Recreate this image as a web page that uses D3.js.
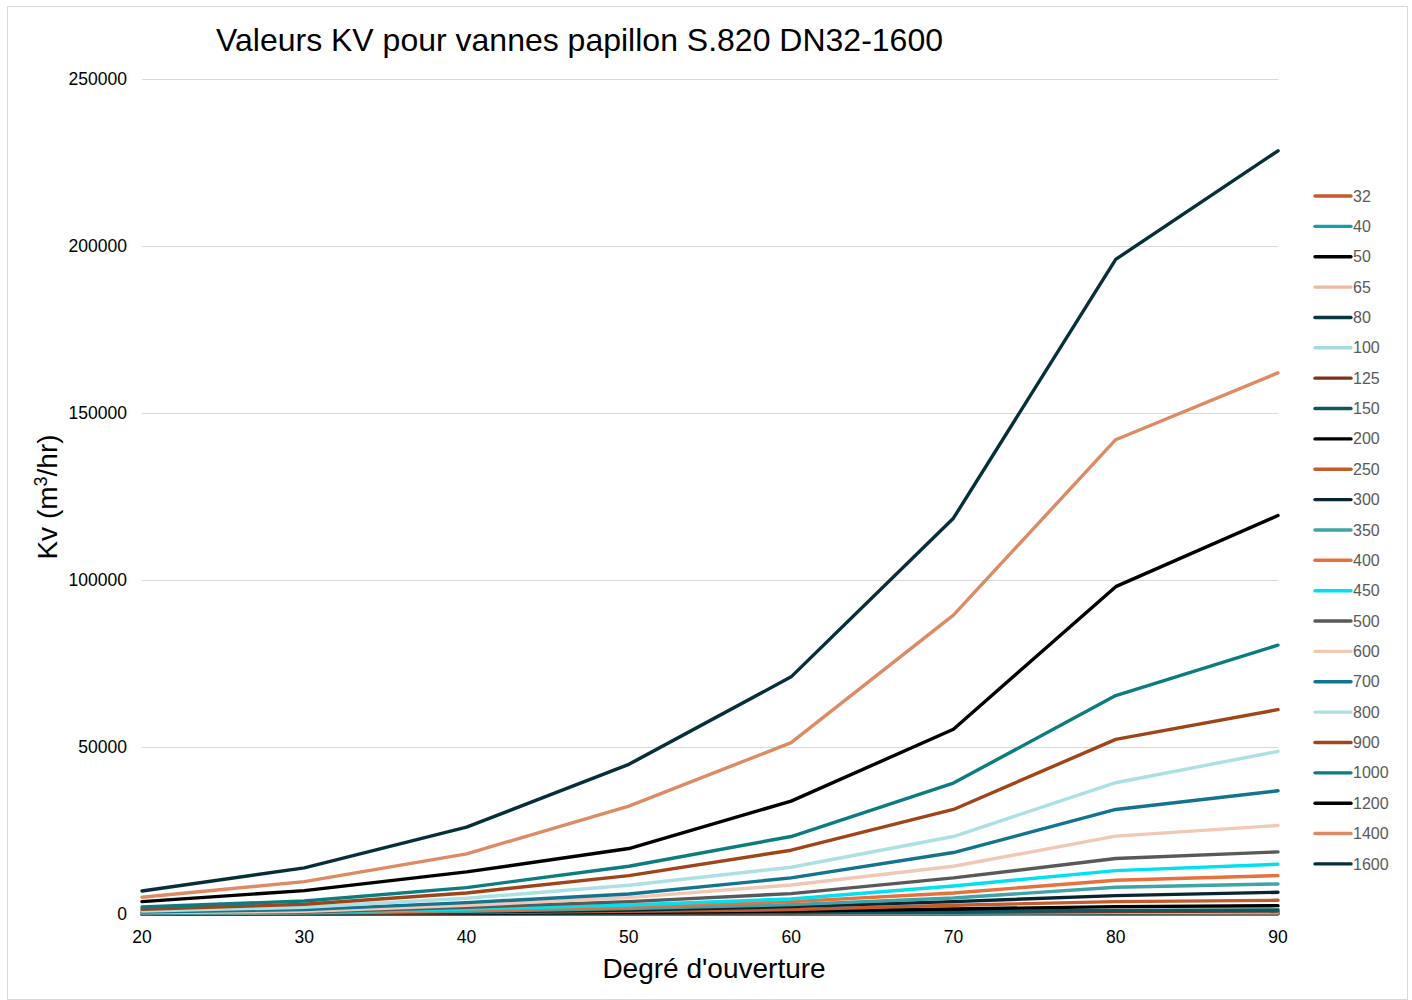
<!DOCTYPE html>
<html>
<head>
<meta charset="utf-8">
<script src="https://cdn.jsdelivr.net/npm/d3@7"></script>
<style>
  html, body { margin: 0; padding: 0; background: #fff; }
  svg { display: block; font-family: "Liberation Sans", Arial, sans-serif; }
</style>
</head>
<body>
<svg id="chart" width="1412" height="1000"></svg>
<script>
// Opening angle (degrees) on the x axis
const angles = [20, 30, 40, 50, 60, 70, 80, 90];

// Valve sizes (DN) – one series per size
const sizes = ["32", "40", "50", "65", "80", "100", "125", "150", "200", "250", "300",
               "350", "400", "450", "500", "600", "700", "800", "900", "1000", "1200", "1400", "1600"];

// Kv values in m3/hr for each size at the angles above
const kv32   = [1, 3, 6, 11, 20, 35, 50, 58];
const kv40   = [2, 4, 10, 18, 32, 55, 80, 90];
const kv50   = [3, 6, 15, 28, 50, 85, 125, 140];
const kv65   = [4, 10, 26, 46, 85, 145, 210, 240];
const kv80   = [6, 15, 40, 70, 130, 220, 320, 360];
const kv100  = [10, 25, 60, 110, 200, 340, 500, 560];
const kv125  = [15, 35, 90, 170, 320, 520, 760, 850];
const kv150  = [20, 50, 120, 250, 450, 750, 1100, 1250];
const kv200  = [40, 100, 250, 500, 900, 1500, 2200, 2500];
const kv250  = [60, 150, 400, 800, 1300, 2600, 3700, 4100];
const kv300  = [90, 220, 600, 1200, 2200, 3700, 5500, 6500];
const kv350  = [120, 300, 800, 1600, 2800, 4800, 8000, 9000];
const kv400  = [160, 400, 1100, 2100, 3700, 6300, 10100, 11500];
const kv450  = [200, 500, 1500, 2700, 4500, 8400, 13000, 14900];
const kv500  = [300, 600, 2000, 3700, 6100, 10800, 16600, 18600];
const kv600  = [400, 800, 2600, 4900, 8700, 14300, 23300, 26500];
const kv700  = [600, 1300, 3400, 6000, 10800, 18400, 31300, 36900];
const kv800  = [900, 2000, 4700, 8600, 14000, 23200, 39300, 48700];
const kv900  = [1400, 2900, 6300, 11500, 19100, 31300, 52300, 61200];
const kv1000 = [2100, 3900, 7900, 14300, 23200, 39200, 65400, 80500];
const kv1200 = [3700, 7000, 12600, 19600, 33800, 55300, 98000, 119300];
const kv1400 = [5000, 9700, 18000, 32300, 51300, 89500, 142000, 162000];
const kv1600 = [6900, 13800, 26000, 44800, 71000, 118500, 196000, 228500];

const seriesValues = [kv32, kv40, kv50, kv65, kv80, kv100, kv125, kv150, kv200, kv250, kv300,
                      kv350, kv400, kv450, kv500, kv600, kv700, kv800, kv900, kv1000, kv1200, kv1400, kv1600];

const colors = ["#C55A2B", "#159FA8", "#000000", "#EEB9A1", "#0B3644", "#A6DCE0", "#7B3418",
                "#0B5A5F", "#000000", "#C55A2B", "#0A2530", "#3FA3A8", "#E8703A", "#00E0F0",
                "#595959", "#F0C8B5", "#14738F", "#ADE0E3", "#A0441A", "#0B7C80", "#000000",
                "#DD8B65", "#062F3A"];

const yTicks = [0, 50000, 100000, 150000, 200000, 250000];
const xTicks = angles;

const svg = d3.select("#chart");

// chart frame
svg.append("rect")
  .attr("x", 7.5).attr("y", 6.5).attr("width", 1400).attr("height", 993)
  .attr("fill", "#fff").attr("stroke", "#D9D9D9").attr("stroke-width", 1);

const x = d3.scaleLinear().domain([20, 90]).range([142, 1278]);
const y = d3.scaleLinear().domain([0, 250000]).range([914, 79]);

// horizontal gridlines
svg.append("g")
  .selectAll("line")
  .data(yTicks)
  .join("line")
  .attr("x1", x(20)).attr("x2", x(90))
  .attr("y1", d => Math.round(y(d)) + 0.5).attr("y2", d => Math.round(y(d)) + 0.5)
  .attr("stroke", "#D9D9D9").attr("stroke-width", 1);

// y tick labels
svg.append("g")
  .selectAll("text")
  .data(yTicks)
  .join("text")
  .attr("x", 127).attr("y", d => y(d))
  .attr("dy", "0.35em")
  .attr("text-anchor", "end")
  .attr("font-size", 17.5)
  .attr("fill", "#000")
  .text(d => d);

// x tick labels
svg.append("g")
  .selectAll("text")
  .data(xTicks)
  .join("text")
  .attr("x", d => x(d)).attr("y", 943)
  .attr("text-anchor", "middle")
  .attr("font-size", 17.5)
  .attr("fill", "#000")
  .text(d => d);

// series lines
const line = d3.line()
  .x((d, i) => x(angles[i]))
  .y(d => y(d));

svg.append("g")
  .attr("fill", "none")
  .selectAll("path")
  .data(seriesValues)
  .join("path")
  .attr("d", d => line(d))
  .attr("stroke", (d, i) => colors[i])
  .attr("stroke-width", 3.4)
  .attr("stroke-linejoin", "round")
  .attr("stroke-linecap", "round");

// title
svg.append("text")
  .attr("x", 216).attr("y", 51)
  .attr("font-size", 32)
  .attr("fill", "#000")
  .text("Valeurs KV pour vannes papillon S.820 DN32-1600");

// x axis title
svg.append("text")
  .attr("x", 714).attr("y", 978)
  .attr("text-anchor", "middle")
  .attr("font-size", 28)
  .attr("fill", "#000")
  .text("Degré d'ouverture");

// y axis title with superscript
const yTitle = svg.append("text")
  .attr("transform", "translate(57,497) rotate(-90)")
  .attr("text-anchor", "middle")
  .attr("font-size", 28)
  .attr("fill", "#000");
yTitle.append("tspan").text("Kv (m");
yTitle.append("tspan").attr("font-size", 18).attr("dy", -10).text("3");
yTitle.append("tspan").attr("dy", 10).text("/hr)");

// legend
const legend = svg.append("g")
  .selectAll("g")
  .data(sizes)
  .join("g")
  .attr("transform", (d, i) => `translate(1314,${196 + i * 30.36})`);

legend.append("line")
  .attr("x1", 1).attr("x2", 37)
  .attr("stroke", (d, i) => colors[i])
  .attr("stroke-width", 3.4)
  .attr("stroke-linecap", "round");

legend.append("text")
  .attr("x", 39).attr("dy", "0.35em")
  .attr("font-size", 16)
  .attr("fill", "#595959")
  .text(d => d);
</script>
</body>
</html>
